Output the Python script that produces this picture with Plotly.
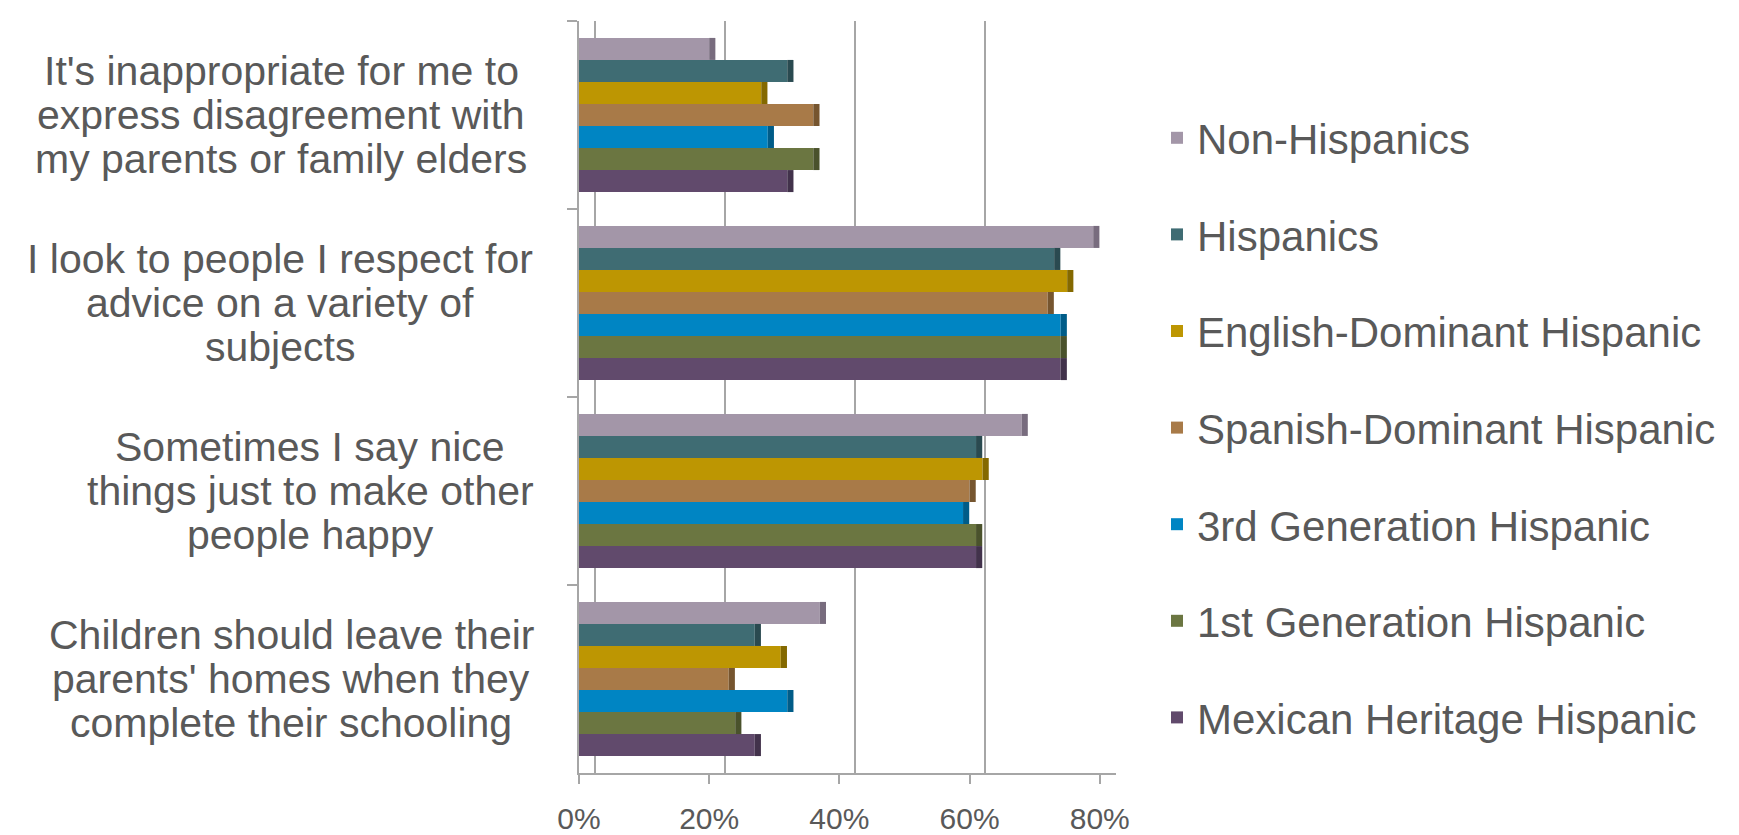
import plotly.graph_objects as go

# ---------------- data ----------------
categories = [
    "It's inappropriate for me to<br>express disagreement with<br>my parents or family elders",
    "I look to people I respect for<br>advice on a variety of<br>subjects",
    "Sometimes I say nice<br>things just to make other<br>people happy",
    "Children should leave their<br>parents' homes when they<br>complete their schooling",
]
series_names = [
    "Non-Hispanics",
    "Hispanics",
    "English-Dominant Hispanic",
    "Spanish-Dominant Hispanic",
    "3rd Generation Hispanic",
    "1st Generation Hispanic",
    "Mexican Heritage Hispanic",
]
non_hispanics = [20, 79, 68, 37]
hispanics = [32, 73, 61, 27]
english_dominant = [28, 75, 62, 31]
spanish_dominant = [36, 72, 60, 23]
third_generation = [29, 74, 59, 32]
first_generation = [36, 74, 61, 24]
mexican_heritage = [32, 74, 61, 27]
series_values = [non_hispanics, hispanics, english_dominant, spanish_dominant,
                 third_generation, first_generation, mexican_heritage]
tick_values = [0, 20, 40, 60, 80]
tick_labels = ["0%", "20%", "40%", "60%", "80%"]

# ---------------- style ----------------
face_colors = ["#A396A8", "#3F6C73", "#BD9602", "#A87A48", "#0085C3", "#6B7641", "#614A6C"]
side_colors = ["#786C7E", "#2A4A50", "#846900", "#76552F", "#005C88", "#4A522C", "#42324B"]
TEXT = "#595959"
LINE = "#A6A6A6"
FONT = "Liberation Sans, Arial, sans-serif"

W, H = 1739, 835
OFF = 8  # page body margin of the html page
def fx(screen_x):
    return screen_x - OFF
def fy(screen_y):
    return screen_y - OFF

plot_left, plot_right, plot_top, plot_bottom = fx(579), fx(1116), fy(21), fy(773)
L, R, T, B = plot_left, W - plot_right, plot_top, H - plot_bottom
PW, PH = plot_right - plot_left, plot_bottom - plot_top

band_fill = 0.82
n = len(series_names)
bw = band_fill / n
depth = 0.95  # visual depth of the bar side face, in axis units

fig = go.Figure()
for i, (name, vals) in enumerate(zip(series_names, series_values)):
    off = -band_fill / 2 + i * bw
    fig.add_trace(go.Bar(
        x=vals, y=categories, orientation="h", name=name,
        width=bw, offset=off, marker=dict(color=face_colors[i], line=dict(width=0)),
        legendgroup=name, hovertemplate="%{x}%<extra>" + name + "</extra>",
    ))
for i, (name, vals) in enumerate(zip(series_names, series_values)):
    off = -band_fill / 2 + i * bw
    fig.add_trace(go.Bar(
        x=[depth] * len(vals), base=vals, y=categories, orientation="h",
        width=bw, offset=off, marker=dict(color=side_colors[i], line=dict(width=0)),
        legendgroup=name, showlegend=False, hoverinfo="skip",
    ))

# empty trace to host the back-wall gridline axis
fig.add_trace(go.Scatter(x=[], y=[], xaxis="x2", showlegend=False, hoverinfo="skip"))

# category labels: centred lines
label_centers = [fx(c) for c in (281, 280, 310, 291)]
line_gap = 44
for cat, cx in zip(categories, label_centers):
    lines = cat.split("<br>")
    for j, ln in enumerate(lines):
        fig.add_annotation(
            x=0, xref="paper", y=cat, yref="y", xanchor="center", yanchor="middle",
            xshift=cx - plot_left, yshift=((len(lines) - 1) / 2 - j) * line_gap,
            text=ln, showarrow=False, font=dict(family=FONT, size=41, color=TEXT),
        )

span = 82.5
fig.update_layout(
    width=W, height=H, margin=dict(l=L, r=R, t=T, b=B, pad=0, autoexpand=False),
    paper_bgcolor="white", plot_bgcolor="white",
    barmode="overlay", showlegend=True,
    font=dict(family=FONT, color=TEXT),
    xaxis=dict(
        range=[0, span], tickvals=tick_values, ticktext=tick_labels, automargin=False,
        showgrid=False, zeroline=False, showline=True, linecolor=LINE, linewidth=2,
        ticks="outside", ticklen=9, tickwidth=2, tickcolor=LINE,
        tickfont=dict(family=FONT, size=30, color=TEXT), ticklabelstandoff=9,
    ),
    xaxis2=dict(
        overlaying="x", range=[-2.4, span - 2.4], tickvals=tick_values, automargin=False,
        showticklabels=False, showgrid=True, gridcolor=LINE, gridwidth=2,
        zeroline=False, showline=False, ticks="",
    ),
    yaxis=dict(
        categoryorder="array", categoryarray=categories, autorange="reversed",
        showticklabels=False, showgrid=False, zeroline=False, automargin=False,
        showline=True, linecolor=LINE, linewidth=2,
        ticks="outside", tickson="boundaries", ticklen=10, tickwidth=2, tickcolor=LINE,
    ),
    legend=dict(
        x=(fx(1157) - plot_left) / PW, xanchor="left",
        y=1 - (fy(104) - plot_top) / PH, yanchor="top",
        traceorder="grouped", tracegroupgap=39,
        font=dict(family=FONT, size=42, color=TEXT),
        bgcolor="rgba(0,0,0,0)",
    ),
)

fig.write_html("out.html")
